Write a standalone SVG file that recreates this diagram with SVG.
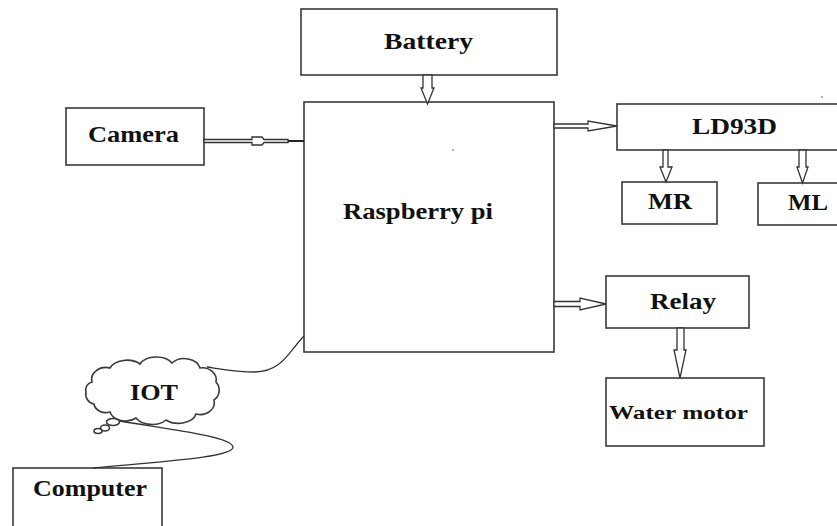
<svg xmlns="http://www.w3.org/2000/svg" width="837" height="526" viewBox="0 0 837 526">
<style>
.box{fill:#fff;stroke:#3a3a3a;stroke-width:1.6}
.lbl{font-family:"Liberation Serif","Times New Roman",serif;font-weight:bold;font-size:24px;fill:#111}
.arr{fill:#fff;stroke:#333;stroke-width:1.3;stroke-linejoin:miter}
.wire{fill:none;stroke:#333;stroke-width:1.3}
</style>
<rect width="837" height="526" fill="#fff"/>
<g id="battery"><rect class="box" x="301" y="9" width="256" height="66"/><text class="lbl" x="384" y="49" textLength="89" lengthAdjust="spacingAndGlyphs">Battery</text></g>
<g id="raspberry"><rect class="box" x="304" y="102" width="250" height="250"/><text class="lbl" x="343" y="219" textLength="150" lengthAdjust="spacingAndGlyphs">Raspberry pi</text></g>
<g id="camera"><rect class="box" x="66" y="108" width="138" height="57"/><text class="lbl" x="88" y="142" textLength="91" lengthAdjust="spacingAndGlyphs">Camera</text></g>
<g id="ld93d"><rect class="box" x="617" y="104" width="225" height="46"/><text class="lbl" x="692" y="134" textLength="85" lengthAdjust="spacingAndGlyphs">LD93D</text></g>
<g id="mr"><rect class="box" x="622" y="182" width="95" height="42"/><text class="lbl" x="648" y="209" textLength="44" lengthAdjust="spacingAndGlyphs">MR</text></g>
<g id="ml"><rect class="box" x="758" y="183" width="84" height="42"/><text class="lbl" x="788" y="210" textLength="40" lengthAdjust="spacingAndGlyphs">ML</text></g>
<g id="relay"><rect class="box" x="606" y="276" width="143" height="52"/><text class="lbl" x="650" y="309" textLength="66" lengthAdjust="spacingAndGlyphs">Relay</text></g>
<g id="watermotor"><rect class="box" x="606" y="378" width="158" height="68"/><text class="lbl" x="609" y="419" style="font-size:19px" textLength="139" lengthAdjust="spacingAndGlyphs">Water  motor</text></g>
<g id="computer"><rect class="box" x="13" y="468" width="149" height="70"/><text class="lbl" x="33" y="496" textLength="114" lengthAdjust="spacingAndGlyphs">Computer</text></g>
<g id="iot">
<path class="box" d="M92,382 A14,12 0 0 1 110,368 A18,12 0 0 1 140,364 A18,12 0 0 1 172,363 A16,12 0 0 1 200,368 A14,12 0 0 1 216,382 A12,12 0 0 1 214,400 A14,12 0 0 1 196,414 A18,12 0 0 1 166,420 A18,12 0 0 1 136,418 A16,12 0 0 1 110,412 A12,10 0 0 1 94,404 A10,10 0 0 1 86,392 A8,8 0 0 1 92,382 Z"/>
<ellipse class="box" cx="113" cy="422" rx="6.5" ry="3.5"/>
<ellipse class="box" cx="105" cy="428" rx="4.5" ry="3"/>
<ellipse class="box" cx="98" cy="431" rx="4" ry="2.5"/>
<text class="lbl" x="130" y="400" textLength="48" lengthAdjust="spacingAndGlyphs">IOT</text>
</g>
<g id="connectors">
<polygon class="arr" points="423,75 432,75 432,88 434,88 427.5,104 421,88 423,88"/>
<polygon class="arr" points="204,139.5 252,139.5 252,137 262,137 264,139.5 288,139.5 288,142.5 264,142.5 262,145 252,145 252,142.5 204,142.5"/>
<line x1="288" y1="141" x2="304" y2="141" stroke="#222" stroke-width="2"/>
<polygon class="arr" points="554,124 588,124 588,121 617,126 588,131 588,128 554,128"/>
<polygon class="arr" points="663,150 668,150 668,167 672,167 666,182 660,167 663,167"/>
<polygon class="arr" points="799,150 806,150 806,167 808,167 802.5,183 797,167 799,167"/>
<polygon class="arr" points="554,301.5 580,301.5 580,298 606,304 580,310 580,306.5 554,306.5"/>
<polygon class="arr" points="677,328 684,328 684,350 686,350 680,378 674,350 677,350"/>
<path class="wire" d="M304,336 C290,350 282,372 255,372 C235,372 215,368 207,367"/>
<path class="wire" d="M120,421 C160,428 232,436 233,447 C234,458 150,462 93,468"/>
</g>
<circle cx="453" cy="150" r="0.8" fill="#555"/>
<circle cx="822" cy="97" r="0.8" fill="#555"/>
</svg>
